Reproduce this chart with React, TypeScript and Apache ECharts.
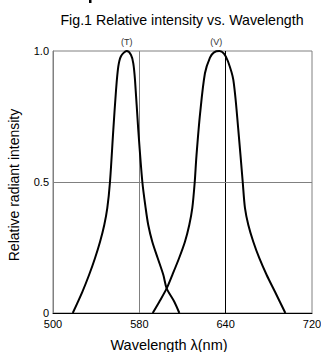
import React, { useEffect, useRef } from "react";
import * as echarts from "echarts";

const xTickLabels = [500, 580, 640, 720];
const yTickLabels = ["0", "0.5", "1.0"];

const tWavelength = [518.3, 527.2, 533.4, 538.9, 543.6, 547.5, 550.3, 552.8, 555.9, 558.4, 560.5, 563.0, 568.3, 572.3, 574.4, 576.0, 579.0, 582.1, 584.4, 586.2, 589.0, 592.8, 596.7, 599.0, 604.3, 607.8];
const tIntensity = [0, 0.081, 0.145, 0.209, 0.272, 0.336, 0.4, 0.5, 0.7, 0.85, 0.94, 0.98, 1.0, 0.985, 0.953, 0.889, 0.7, 0.5, 0.4, 0.336, 0.272, 0.209, 0.145, 0.094, 0.043, 0];

const vWavelength = [589.3, 593.9, 599.0, 602.9, 607.6, 611.7, 614.7, 616.8, 618.5, 619.7, 622.2, 625.6, 629.1, 631.9, 635.6, 638.8, 642.2, 647.1, 651.7, 655.8, 657.9, 661.0, 665.6, 671.2, 678.0, 685.7, 695.3];
const vIntensity = [0, 0.043, 0.094, 0.145, 0.209, 0.272, 0.336, 0.4, 0.5, 0.6, 0.76, 0.915, 0.975, 0.995, 1.0, 0.99, 0.96, 0.89, 0.7, 0.5, 0.4, 0.336, 0.272, 0.209, 0.145, 0.081, 0];

const seriesNames = ["(T)", "(V)"];
const peakT = 568.3;
const peakV = 635.6;

// piecewise axis: the tick labels are equally spaced
function toAxis(nm: number): number {
  for (let i = 0; i < xTickLabels.length - 1; i++) {
    const a = xTickLabels[i];
    const b = xTickLabels[i + 1];
    if (nm <= b || i === xTickLabels.length - 2) {
      return i + (nm - a) / (b - a);
    }
  }
  return 0;
}

const FONT = "Liberation Sans, Arial, sans-serif";

export default function App() {
  const ref = useRef<HTMLDivElement>(null);
  useEffect(() => {
    document.body.style.margin = "0";
    const chart = echarts.init(ref.current!, null, { renderer: "svg" });
    const mk = (xs: number[], ys: number[]) => xs.map((x, i) => [toAxis(x), ys[i]]);
    chart.setOption({
      animation: false,
      backgroundColor: "#fff",
      textStyle: { fontFamily: FONT },
      title: {
        text: "Fig.1 Relative intensity vs. Wavelength",
        left: 177,
        top: 8,
        textAlign: "center",
        textStyle: { fontSize: 14.2, fontWeight: "normal", color: "#000", fontFamily: FONT },
      },
      graphic: [
        { type: "rect", shape: { x: 89, y: 0, width: 2.5, height: 3 }, style: { fill: "#000" } },
        {
          type: "text",
          x: 14,
          y: 185,
          rotation: Math.PI / 2,
          style: {
            text: "Relative radiant intensity",
            fontSize: 14,
            fontFamily: FONT,
            fill: "#000",
            align: "center",
            verticalAlign: "middle",
          },
        },
      ],
      grid: {
        left: 53,
        top: 51,
        right: 9,
        bottom: 39,
        containLabel: false,
        outerBoundsMode: "none",
        show: true,
        borderColor: "#808080",
        borderWidth: 1,
      },
      xAxis: {
        type: "value",
        min: 0,
        max: 3,
        interval: 1,
        name: "Wavelength λ(nm)",
        nameLocation: "middle",
        nameGap: 24,
        nameTextStyle: { fontSize: 14.5, color: "#000", fontFamily: FONT, padding: [0, 27, 0, 0] },
        axisLine: { lineStyle: { color: "#000", width: 1 } },
        axisTick: { show: false },
        splitLine: { show: false },
        axisLabel: {
          fontSize: 11,
          color: "#000",
          margin: 5,
          fontFamily: FONT,
          formatter: (v: number) => String(xTickLabels[Math.round(v)] ?? ""),
        },
      },
      yAxis: {
        type: "value",
        min: 0,
        max: 1,
        interval: 0.5,
        axisLine: { show: true, lineStyle: { color: "#808080", width: 1 } },
        axisTick: { show: false },
        splitLine: { show: false },
        axisLabel: {
          fontSize: 11,
          color: "#000",
          margin: 4,
          fontFamily: FONT,
          formatter: (v: number) => yTickLabels[Math.round(v * 2)] ?? "",
        },
      },
      series: [
        {
          name: seriesNames[0],
          type: "line",
          data: mk(tWavelength, tIntensity),
          smooth: 0.3,
          showSymbol: false,
          lineStyle: { color: "#000", width: 2 },
          z: 5,
          markLine: {
            silent: true,
            symbol: "none",
            label: { show: false },
            data: [
              { xAxis: toAxis(580), lineStyle: { color: "#808080", width: 1, type: "solid" } },
              { xAxis: toAxis(640), lineStyle: { color: "#000", width: 1, type: "solid" } },
              { yAxis: 0.5, lineStyle: { color: "#808080", width: 1, type: "solid" } },
            ],
          },
          markPoint: {
            symbol: "circle",
            symbolSize: 0,
            data: [
              {
                coord: [toAxis(peakT), 1],
                label: { show: true, formatter: seriesNames[0], position: "top", distance: 5, fontSize: 9, color: "#333", fontFamily: FONT },
              },
              {
                coord: [toAxis(peakV) - 0.035, 1],
                label: { show: true, formatter: seriesNames[1], position: "top", distance: 5, fontSize: 9, color: "#333", fontFamily: FONT },
              },
            ],
          },
        },
        {
          name: seriesNames[1],
          type: "line",
          data: mk(vWavelength, vIntensity),
          smooth: 0.3,
          showSymbol: false,
          lineStyle: { color: "#000", width: 2 },
          z: 5,
        },
      ],
    });
    return () => chart.dispose();
  }, []);
  return <div ref={ref} style={{ width: 321, height: 352 }} />;
}
